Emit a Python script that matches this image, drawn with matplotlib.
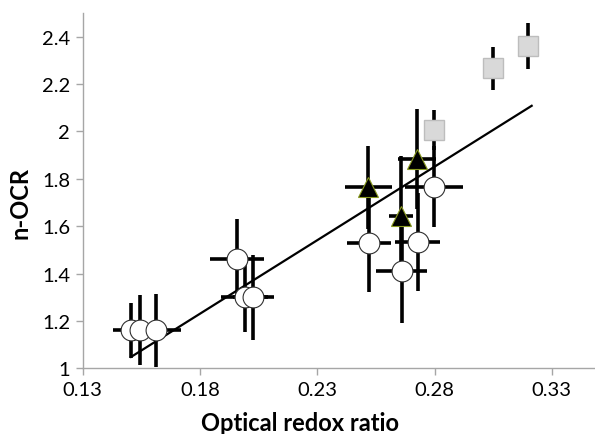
import matplotlib
matplotlib.use("Agg")
import matplotlib.pyplot as plt

# circles (white)
circ_x = [0.1507, 0.1543, 0.1613, 0.1959, 0.1991, 0.2027, 0.2520, 0.2728, 0.2660, 0.2797]
circ_y = [1.16, 1.16, 1.16, 1.46, 1.30, 1.30, 1.53, 1.535, 1.41, 1.767]
circ_xerr = [0.0077, 0.008, 0.0104, 0.0116, 0.010, 0.0088, 0.0095, 0.0096, 0.0108, 0.0124]
circ_yerr = [0.115, 0.148, 0.155, 0.17, 0.148, 0.18, 0.207, 0.207, 0.218, 0.171]

# triangles (black)
tri_x = [0.2517, 0.2726, 0.2657]
tri_y = [1.764, 1.883, 1.644]
tri_xerr = [0.010, 0.008, 0.0053]
tri_yerr = [0.176, 0.21, 0.25]

# squares (grey)
sq_x = [0.2796, 0.3048, 0.3197]
sq_y = [2.006, 2.266, 2.362]
sq_yerr = [0.085, 0.09, 0.097]

# trend line end points
trend_x = [0.1506, 0.3214]
trend_y = [1.048, 2.108]

x_ticks = [0.13, 0.18, 0.23, 0.28, 0.33]
y_ticks = [1, 1.2, 1.4, 1.6, 1.8, 2, 2.2, 2.4]
y_labels = ["1", "1.2", "1.4", "1.6", "1.8", "2", "2.2", "2.4"]

plt.rcParams['font.family'] = ['Lato', 'DejaVu Sans']

fig = plt.figure(figsize=(5.95, 4.35), dpi=100)
ax = fig.add_axes([0.139, 0.151, 0.861, 0.817])

eb = dict(fmt='none', ecolor='black', elinewidth=2.6, capsize=0, zorder=2)
ax.errorbar(circ_x, circ_y, xerr=circ_xerr, yerr=circ_yerr, **eb)
ax.errorbar(tri_x, tri_y, xerr=tri_xerr, yerr=tri_yerr, **eb)
ax.errorbar(sq_x, sq_y, yerr=sq_yerr, **eb)

ax.plot(trend_x, trend_y, color='black', lw=1.6, zorder=3)

ax.plot(circ_x, circ_y, 'o', ms=15, mfc='white', mec='#303030', mew=0.8, zorder=4)
ax.plot(tri_x, tri_y, '^', ms=15, mfc='black', mec='#8a9a20', mew=0.8, zorder=4)
ax.plot(sq_x, sq_y, 's', ms=14, mfc='#d9d9d9', mec='#bdbdbd', mew=1.0, zorder=4)

ax.set_xlim(0.13, 0.3484)
ax.set_ylim(1, 2.5)
ax.set_xticks(x_ticks)
ax.set_xticklabels([f"{v:.2f}" for v in x_ticks])
ax.set_yticks(y_ticks)
ax.set_yticklabels(y_labels)

for s in ['top', 'right']:
    ax.spines[s].set_visible(False)
for s in ['left', 'bottom']:
    ax.spines[s].set_color('#a6a6a6')
    ax.spines[s].set_linewidth(1.0)
ax.tick_params(direction='out', length=5, width=1, color='#a6a6a6', labelsize=14.5, labelcolor='black', pad=4)

ax.set_xlabel("Optical redox ratio", fontsize=17, fontweight='bold')
ax.set_ylabel("n-OCR", fontsize=17, fontweight='bold')
ax.xaxis.set_label_coords(0.424, -0.12)
ax.yaxis.set_label_coords(-0.122, 0.468)
ax.yaxis.label.set_verticalalignment('center')

fig.savefig("out.png", dpi=100)
